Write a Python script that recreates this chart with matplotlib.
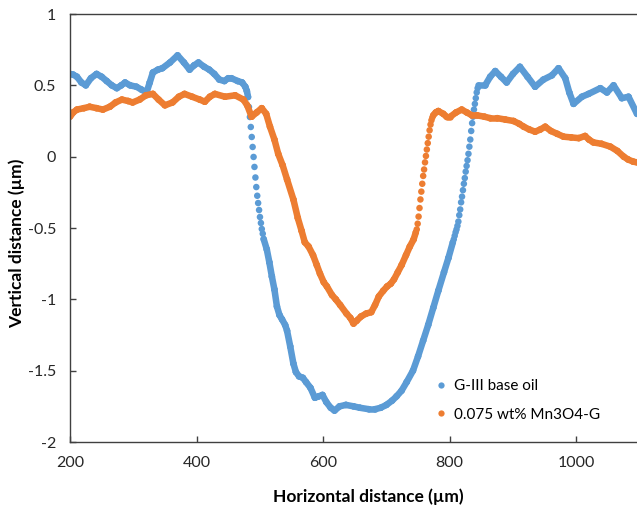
import matplotlib
matplotlib.use("Agg")
import matplotlib.pyplot as plt
from matplotlib.collections import LineCollection
from matplotlib.lines import Line2D
import numpy as np

plt.rcParams['font.family'] = ['Lato', 'DejaVu Sans']
plt.rcParams['axes.unicode_minus'] = False

# Surface profiles across the wear track (x in µm, y in µm)
series_names = ["G-III base oil", "0.075 wt% Mn3O4-G"]

base_oil_x = [200, 205, 211, 218, 225, 233, 242, 250, 258, 266, 274, 281, 287, 295, 305,
              313, 321, 326, 331, 339, 346, 358, 370, 380, 389, 396, 403, 412, 420, 428,
              436, 444, 450, 455, 465, 472, 477, 479.5,
              481.4, 482.8, 484.3, 485.7, 487.2, 488.6, 490.1, 491.5, 493.0, 494.4, 495.9,
              497.3, 498.8, 500.2, 501.7, 503.1, 504.6, 506.0,
              511, 515, 519, 523, 527, 531, 535, 540, 543, 548, 553, 557, 562, 568, 573,
              580, 587, 593, 599, 605, 612, 618, 626, 636, 648, 658, 672, 682, 691, 700,
              709, 716, 724, 732, 742, 750, 758, 766, 774, 782, 791, 798,
              805.0, 806.45, 807.9, 809.35, 810.8, 812.25, 813.7, 815.15, 816.6, 818.05,
              819.5, 820.95, 822.4, 823.85, 825.3, 826.75, 828.2, 829.65, 831.1, 832.55,
              834.0, 835.45, 836.9, 838.35, 839.8, 841.25, 842.7, 844.15, 845.6,
              856, 864, 872, 881, 890, 900, 911, 923, 935, 948, 961.5, 972, 982.6, 989,
              995.7, 1009, 1019.5, 1038, 1048.5, 1059, 1072, 1082.6, 1096]
base_oil_y = [0.58, 0.575, 0.56, 0.52, 0.50, 0.55, 0.58, 0.56, 0.53, 0.50, 0.48, 0.50, 0.52,
              0.50, 0.49, 0.47, 0.45, 0.52, 0.59, 0.61, 0.62, 0.66, 0.71, 0.66, 0.61, 0.64,
              0.66, 0.63, 0.61, 0.58, 0.54, 0.53, 0.55, 0.55, 0.53, 0.52, 0.49, 0.46,
              0.418, 0.348, 0.278, 0.208, 0.138, 0.068, -0.002, -0.072, -0.146, -0.213,
              -0.274, -0.325, -0.374, -0.423, -0.465, -0.507, -0.54, -0.577,
              -0.65, -0.74, -0.84, -0.93, -1.05, -1.11, -1.14, -1.18, -1.22, -1.33, -1.45,
              -1.51, -1.54, -1.55, -1.58, -1.62, -1.69, -1.68, -1.67, -1.72, -1.76, -1.78,
              -1.75, -1.74, -1.75, -1.76, -1.77, -1.77, -1.76, -1.74, -1.71, -1.68, -1.64,
              -1.58, -1.50, -1.40, -1.29, -1.18, -1.06, -0.94, -0.81, -0.71,
              -0.60, -0.58, -0.555, -0.53, -0.51, -0.485, -0.455, -0.41, -0.37, -0.32,
              -0.28, -0.235, -0.19, -0.15, -0.105, -0.065, -0.025, 0.02, 0.07, 0.12,
              0.18, 0.235, 0.28, 0.33, 0.37, 0.41, 0.45, 0.48, 0.50,
              0.50, 0.56, 0.60, 0.56, 0.52, 0.58, 0.63, 0.56, 0.49, 0.54, 0.57, 0.62, 0.55,
              0.45, 0.37, 0.42, 0.44, 0.48, 0.45, 0.50, 0.41, 0.42, 0.30]

mn3o4_x = [200, 205, 211, 222, 231, 242, 252, 263, 272, 282, 292, 299, 310, 320, 331, 340,
           350, 362, 372, 381, 393, 405, 413, 421, 429, 445, 461, 474, 480, 487, 495, 503,
           510, 516, 523, 529, 536, 543, 553, 560, 566, 571, 577, 584, 590, 595, 601, 606,
           614, 620, 627, 637, 643, 648, 653, 660, 668, 676, 682, 688, 695, 701, 707, 712,
           718, 724, 731, 737, 743,
           746.5, 747.95, 749.4, 750.85, 752.3, 753.75, 755.2, 756.65, 758.1, 759.55,
           761.0, 762.45, 763.9, 765.35, 766.8, 768.25, 769.7, 771.15, 772.6, 774.05,
           778, 782, 790, 795, 801, 810, 819, 827, 835, 843, 855, 864, 875, 888, 901, 910,
           917, 926, 935, 943, 951, 960, 970, 980, 992, 1004, 1014, 1020, 1027, 1040, 1054,
           1065, 1075, 1082, 1090, 1096]
mn3o4_y = [0.28, 0.31, 0.33, 0.34, 0.35, 0.34, 0.33, 0.35, 0.38, 0.40, 0.39, 0.38, 0.40,
           0.43, 0.44, 0.40, 0.36, 0.38, 0.42, 0.44, 0.42, 0.40, 0.385, 0.42, 0.44, 0.42,
           0.43, 0.40, 0.36, 0.28, 0.31, 0.34, 0.30, 0.21, 0.12, 0.02, -0.06, -0.16, -0.30,
           -0.43, -0.52, -0.60, -0.63, -0.69, -0.76, -0.82, -0.88, -0.91, -0.97, -1.00,
           -1.04, -1.10, -1.13, -1.17, -1.15, -1.12, -1.10, -1.09, -1.04, -0.98, -0.94,
           -0.91, -0.89, -0.86, -0.81, -0.76, -0.69, -0.63, -0.58,
           -0.53, -0.51, -0.47, -0.42, -0.36, -0.30, -0.245, -0.19, -0.135, -0.09,
           -0.04, 0.005, 0.05, 0.095, 0.14, 0.185, 0.225, 0.255, 0.275, 0.29,
           0.31, 0.32, 0.30, 0.28, 0.28, 0.31, 0.33, 0.31, 0.29, 0.29, 0.28, 0.27, 0.27,
           0.26, 0.25, 0.23, 0.21, 0.19, 0.175, 0.19, 0.21, 0.18, 0.16, 0.14, 0.135, 0.13,
           0.145, 0.12, 0.10, 0.09, 0.07, 0.04, 0.0, -0.02, -0.035, -0.04]

x_ticks = [200, 400, 600, 800, 1000]
x_tick_labels = ["200", "400", "600", "800", "1000"]
y_ticks = [-2, -1.5, -1, -0.5, 0, 0.5, 1]
y_tick_labels = ["-2", "-1.5", "-1", "-0.5", "0", "0.5", "1"]

colors = ["#5B9BD5", "#ED7D31"]
axis_color = "#404040"

W, H = 637, 508
fig = plt.figure(figsize=(W / 100, H / 100), dpi=100)
ax = fig.add_axes([70 / W, 66 / H, 567 / W, 428 / H])

DOT_S = 22
BAND_LW = 4.7


def draw_profile(ax, xs, ys, color):
    xs = np.asarray(xs, dtype=float)
    ys = np.asarray(ys, dtype=float)
    pts = np.column_stack([xs, ys])
    # join consecutive readings with a band except where single sample dots are listed
    segs = [pts[i:i + 2] for i in range(len(xs) - 1) if xs[i + 1] - xs[i] > 1.6]
    lc = LineCollection(segs, colors=color, linewidths=BAND_LW,
                        capstyle='round', joinstyle='round')
    ax.add_collection(lc)
    ax.scatter(xs, ys, s=DOT_S, color=color, edgecolors='none', zorder=lc.get_zorder())


draw_profile(ax, base_oil_x, base_oil_y, colors[0])
draw_profile(ax, mn3o4_x, mn3o4_y, colors[1])

ax.set_xlim(200, 1096)
ax.set_ylim(-2, 1)
ax.set_xticks(x_ticks)
ax.set_xticklabels(x_tick_labels)
ax.set_yticks(y_ticks)
ax.set_yticklabels(y_tick_labels)

for side in ("left", "bottom", "top"):
    ax.spines[side].set_color(axis_color)
    ax.spines[side].set_linewidth(1.0)
ax.spines["right"].set_visible(False)

ax.tick_params(axis="both", direction="in", length=4, width=1.0, color=axis_color,
               labelsize=11.5, labelcolor="#262626")
ax.tick_params(axis="y", pad=10)
ax.tick_params(axis="x", pad=10)

ax.set_xlabel("Horizontal distance (µm)", fontsize=12.5, fontweight="bold",
              va="center", ha="center")
ax.xaxis.set_label_coords((368 - 70) / 567, (442 - 497) / 428)
ax.set_ylabel("Vertical distance (µm)", fontsize=12.5, fontweight="bold",
              va="center", ha="center")
ax.yaxis.set_label_coords((17 - 70) / 567, (442 - 243) / 428)

handles = [Line2D([], [], linestyle="none", marker="o", markersize=4.5,
                  markerfacecolor=c, markeredgecolor="none") for c in colors]
ax.legend(handles, series_names, loc="upper left",
          bbox_to_anchor=((436 - 70) / 567, (442 - 379) / 428),
          frameon=False, fontsize=11, handlelength=0.7, handletextpad=0.45,
          labelspacing=0.95, borderpad=0, borderaxespad=0)

fig.savefig("out.png", dpi=100)
